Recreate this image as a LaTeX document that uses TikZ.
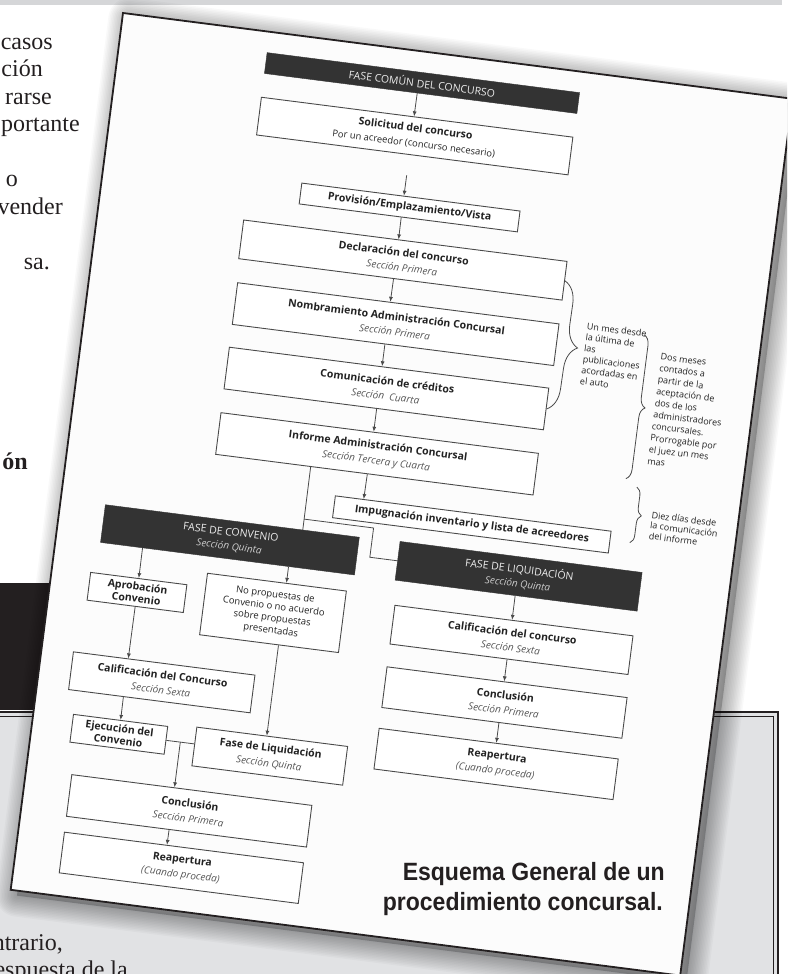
\documentclass[tikz,border=0pt]{standalone}
\usepackage{fontspec}
\setmainfont{Liberation Serif}
\newfontfamily\dg{Open Sans}
\newfontfamily\capf[FakeStretch=0.92]{Liberation Sans}
\usetikzlibrary{arrows.meta,calc,decorations.pathreplacing}
\definecolor{boxc}{HTML}{4A4A4A}
\definecolor{hdrc}{HTML}{333333}
\definecolor{txtc}{HTML}{222222}
\definecolor{subc}{HTML}{555555}
\definecolor{graybox}{HTML}{E1E2E4}
\definecolor{topband}{HTML}{D5D6D8}
\definecolor{ink}{HTML}{231F20}
\newcommand\subt[1]{{\fontsize{10}{12}\selectfont\itshape\color{subc}#1}}
\newcommand\hsub[1]{{\fontsize{10}{12}\selectfont\itshape\color{white!80!black}#1}}
\begin{document}
\begin{tikzpicture}[x=1pt,y=-1pt,
  lt/.style={anchor=base east, inner sep=0pt, text=ink, font=\fontsize{24}{27}\selectfont},
  box/.style={draw=boxc, line width=0.9pt, fill=white, inner sep=0pt, align=center,
    text=txtc, font=\dg\fontsize{10.5}{15}\selectfont},
  boxs/.style={box, font=\dg\fontsize{10.5}{12}\selectfont},
  boxn/.style={box, font=\dg\fontsize{9.5}{12}\selectfont},
  hdr/.style={fill=hdrc, draw=hdrc, text=white!93!black, inner sep=0pt, align=center,
    font=\dg\fontsize{10.5}{14}\selectfont},
  arr/.style={-{Latex[length=5pt,width=4pt]}, line width=0.8pt, draw=boxc},
  ln/.style={line width=0.8pt, draw=boxc},
  brc/.style={decorate, line width=0.8pt, draw=boxc},
  note/.style={anchor=north west, inner sep=0pt, align=left, text=txtc,
    font=\dg\fontsize{9}{11}\selectfont},
  capt/.style={anchor=base east, inner sep=0pt, text=ink,
    font=\capf\bfseries\fontsize{25}{30}\selectfont}]
\useasboundingbox (0,0) rectangle (787,974);
\clip (0,0) rectangle (787,974);
% page background
\fill[white] (0,0) rectangle (787,974);
\fill[topband] (0,0) rectangle (782,5);
\node[lt] (t1) at (53,49) {casos};
\node[lt] (t2) at (43,76.5) {ción};
\node[lt] (t3) at (52,104) {rarse};
\node[lt] (t4) at (80,131.5) {portante};
\node[lt] (t5) at (18,186.5) {o};
\node[lt] (t6) at (63,214) {vender};
\node[lt] (t7) at (50,269) {sa.};
\node[lt, font=\bfseries\fontsize{24}{27}\selectfont] (t8) at (28,469) {ón};
\fill[ink] (-2,583) rectangle (300,710);
\fill[graybox] (-2,712) rectangle (778,980);
\draw[ink, line width=1.6pt] (-2,712) -- (778,712) -- (778,980);
\draw[ink, line width=0.6pt] (-2,716.5) -- (773.5,716.5) -- (773.5,980);
\node[lt] (t9) at (63,950) {ntrario,};
\node[lt] (t10) at (128,977) {espuesta de la};
% sheet
\begin{scope}[shift={(123,13)}, rotate=-7.3]
  \begin{scope}[shift={(7,5)}]
    \foreach \w in {3,6,...,42} {\draw[line width=\w pt, black, opacity=0.022, line join=round] (0,0) rectangle (675,884);}
    \fill[black, opacity=0.22] (0,0) rectangle (675,884);
  \end{scope}
  \filldraw[fill=white!99!black, draw=ink, line width=1.8pt] (0,0) rectangle (675,884);
  \begin{scope}[transform shape]
    % main column
    \node[hdr, minimum width=315, minimum height=21] (hdr1) at (305.5,31.5) {FASE COMÚN DEL CONCURSO};
    \node[box, minimum width=314, minimum height=38] (sol) at (305,85)
      {\textbf{Solicitud del concurso}\\{\fontsize{9.4}{11}\selectfont Por un acreedor (concurso necesario)}};
    \node[box, minimum width=220, minimum height=21] (prov) at (309,156.5) {\textbf{Provisión/Emplazamiento/Vista}};
    \node[box, minimum width=326, minimum height=39] (decl) at (309,209.5) {\textbf{Declaración del concurso}\\\subt{Sección Primera}};
    \node[box, minimum width=324, minimum height=42] (nomb) at (310,274) {\textbf{Nombramiento Administración Concursal}\\\subt{Sección Primera}};
    \node[box, minimum width=322, minimum height=42] (comu) at (309,339) {\textbf{Comunicación de créditos}\\\subt{Sección\ \ Cuarta}};
    \node[box, minimum width=320, minimum height=42] (info) at (308,405) {\textbf{Informe Administración Concursal}\\\subt{Sección Tercera y Cuarta}};
    \node[box, minimum width=278, minimum height=22] (impu) at (411,463) {\textbf{Impugnación inventario y lista de acreedores}};
    % phase headers
    \node[hdr, minimum width=256, minimum height=38] (hdrC) at (173,509) {FASE DE CONVENIO\\\hsub{Sección Quinta}};
    \node[hdr, minimum width=244, minimum height=39] (hdrL) at (464,508.5) {FASE DE LIQUIDACIÓN\\\hsub{Sección Quinta}};
    % convenio column
    \node[boxs, minimum width=97, minimum height=28] (apro) at (87.5,573) {\textbf{Aprobación}\\\textbf{Convenio}};
    \node[boxn, minimum width=140, minimum height=62] (nopro) at (225,576) {No propuestas de\\Convenio o no acuerdo\\sobre propuestas\\presentadas};
    \node[box, minimum width=183, minimum height=38] (calC) at (123.5,659) {\textbf{Calificación del Concurso}\\\subt{Sección Sexta}};
    \node[boxs, minimum width=95, minimum height=28] (ejec) at (87.5,716) {\textbf{Ejecución del}\\\textbf{Convenio}};
    \node[box, minimum width=152, minimum height=39] (faseL) at (240,718.5) {\textbf{Fase de Liquidación}\\\subt{Sección Quinta}};
    \node[box, minimum width=242, minimum height=42] (concC) at (167,783) {\textbf{Conclusión}\\\subt{Sección Primera}};
    \node[box, minimum width=241, minimum height=41] (reapC) at (166.5,840.5) {\textbf{Reapertura}\\\subt{(Cuando proceda)}};
    % liquidacion column
    \node[box, minimum width=240, minimum height=39] (calL) at (465,572.5) {\textbf{Calificación del concurso}\\\subt{Sección Sexta}};
    \node[box, minimum width=242, minimum height=41] (concL) at (466,635.5) {\textbf{Conclusión}\\\subt{Sección Primera}};
    \node[box, minimum width=241, minimum height=41] (reapL) at (465.5,697.5) {\textbf{Reapertura}\\\subt{(Cuando proceda)}};
    % main arrows
    \draw[arr] ($(hdr1.south west)!0.489!(hdr1.south east)$) -- ($(sol.north west)!0.49!(sol.north east)$);
    \coordinate (solx) at (302,125);
    \draw[arr] (solx) -- ($(prov.north west)!0.468!(prov.north east)$);
    \draw[arr] ($(prov.south west)!0.468!(prov.south east)$) -- ($(decl.north west)!0.479!(decl.north east)$);
    \draw[arr] ($(decl.south west)!0.479!(decl.south east)$) -- ($(nomb.north west)!0.475!(nomb.north east)$);
    \draw[arr] ($(nomb.south west)!0.475!(nomb.south east)$) -- ($(comu.north west)!0.478!(comu.north east)$);
    \draw[arr] ($(comu.south west)!0.478!(comu.south east)$) -- ($(info.north west)!0.481!(info.north east)$);
    \draw[arr] ($(info.south west)!0.478!(info.south east)$) -- ($(impu.north west)!0.104!(impu.north east)$);
    % branch lines
    \coordinate (ib) at ($(info.south west)!0.30!(info.south east)$);
    \coordinate (ct) at ($(hdrC.north west)!0.777!(hdrC.north east)$);
    \draw[ln] (ib) -- (ct);
    \coordinate (br1) at ($(ib)!0.83!(ct)$);
    \coordinate (br2) at (314,479);
    \coordinate (br3) at (314,508.5);
    \draw[ln] (br1) -- (br2) -- (br3) -- (hdrL.west);
    % convenio arrows
    \draw[arr] ($(hdrC.south west)!0.166!(hdrC.south east)$) -- (apro.north);
    \draw[arr] ($(hdrC.south west)!0.74!(hdrC.south east)$) -- ($(nopro.north west)!0.568!(nopro.north east)$);
    \draw[arr] (apro.south) -- ($(calC.north west)!0.303!(calC.north east)$);
    \draw[arr] ($(calC.south west)!0.303!(calC.south east)$) -- (ejec.north);
    \draw[arr] ($(nopro.south west)!0.568!(nopro.south east)$) -- ($(faseL.north west)!0.464!(faseL.north east)$);
    \coordinate (fl) at ($(faseL.north west)!0.436!(faseL.south west)$);
    \draw[ln] (ejec.east) -- (fl);
    \coordinate (jn) at ($(ejec.east)!0.5!(fl)$);
    \draw[arr] (jn) -- ($(concC.north west)!0.428!(concC.north east)$);
    \draw[arr] ($(concC.south west)!0.428!(concC.south east)$) -- ($(reapC.north west)!0.429!(reapC.north east)$);
    % liquidacion arrows
    \draw[arr] ($(hdrL.south west)!0.496!(hdrL.south east)$) -- ($(calL.north west)!0.492!(calL.north east)$);
    \draw[arr] ($(calL.south west)!0.492!(calL.south east)$) -- ($(concL.north west)!0.488!(concL.north east)$);
    \draw[arr] ($(concL.south west)!0.488!(concL.south east)$) -- ($(reapL.north west)!0.49!(reapL.north east)$);
    % braces and notes
    \draw[brc, decoration={brace, amplitude=22pt}] (decl.east) -- (comu.east);
    \coordinate (b2t) at (558,253);
    \coordinate (b2b) at (558,398);
    \draw[brc, decoration={brace, amplitude=10pt}] (b2t) -- (b2b);
    \coordinate (b3t) at (570,405);
    \coordinate (b3b) at (570,461);
    \draw[brc, decoration={brace, amplitude=8pt}] (b3t) -- (b3b);
    \node[note] (n1) at (500,248) {Un mes desde\\la última de\\las\\publicaciones\\acordadas en\\el auto};
    \node[note, font=\dg\fontsize{9}{11.7}\selectfont] (n2) at (577,269) {Dos meses\\contados a\\partir de la\\aceptación de\\dos de los\\administradores\\concursales.\\Prorrogable por\\el juez un mes\\mas};
    \node[note, font=\dg\fontsize{9}{10.5}\selectfont] (n3) at (588,427) {Diez días desde\\la comunicación\\del informe};
  \end{scope}
\end{scope}
% caption
\node[capt] (cap1) at (665,880) {Esquema General de un};
\node[capt] (cap2) at (663,910) {procedimiento concursal.};
\end{tikzpicture}
\end{document}
